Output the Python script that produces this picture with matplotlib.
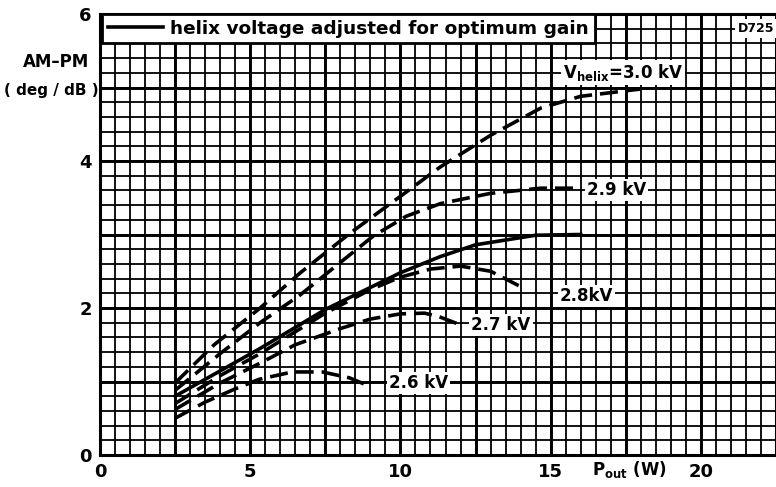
import numpy as np
import matplotlib
matplotlib.use('Agg')
import matplotlib.pyplot as plt

# output power (W) vs AM-PM conversion (deg/dB), one curve per helix voltage
p_30 = [2.5, 3.8, 5.33, 6.67, 8.33, 10, 11.33, 13, 14.67, 16, 18]
am_30 = [0.98, 1.5, 2.0, 2.48, 3.02, 3.52, 3.92, 4.35, 4.72, 4.88, 4.98]
p_29 = [2.5, 4, 5.33, 6.67, 8, 9.1, 10.2, 11.33, 13, 14.67, 16]
am_29 = [0.88, 1.38, 1.8, 2.18, 2.62, 2.98, 3.25, 3.42, 3.56, 3.63, 3.63]
p_28 = [2.5, 4, 5.33, 7.5, 9, 10, 11, 12, 13, 14.1]
am_28 = [0.70, 1.08, 1.38, 1.93, 2.25, 2.42, 2.53, 2.57, 2.5, 2.27]
p_27 = [2.5, 4, 5.33, 6.5, 8, 9, 10, 10.8, 11.3, 12]
am_27 = [0.62, 0.98, 1.25, 1.5, 1.72, 1.85, 1.92, 1.93, 1.88, 1.77]
p_26 = [2.5, 3.5, 4.5, 5.3, 6.4, 7.4, 8.3, 9]
am_26 = [0.5, 0.72, 0.9, 1.03, 1.13, 1.13, 1.05, 0.93]
# helix voltage adjusted for optimum gain
p_opt = [2.5, 5.33, 7.5, 10, 11.33, 12.5, 14.5, 16]
am_opt = [0.8, 1.45, 1.98, 2.48, 2.7, 2.86, 2.99, 3.0]

x_ticks = [0, 5, 10, 15, 20]
y_ticks = [0, 2, 4, 6]

plt.rcParams['font.family'] = ['DejaVu Sans']
plt.rcParams['font.weight'] = 'bold'

fig = plt.figure(figsize=(7.76, 4.87), dpi=100)
ax = fig.add_axes([100/776, 32/487, 676/776, 441/487])
ax.set_xlim(0, 22.5)
ax.set_ylim(0, 6)

# graph paper grid
ax.vlines(np.arange(0, 22.6, 0.5), 0, 6, color='black', lw=1.3, zorder=1)
ax.hlines(np.arange(0, 6.01, 0.2), 0, 22.5, color='black', lw=1.3, zorder=1)
ax.vlines(np.arange(0, 22.6, 2.5), 0, 6, color='black', lw=2.1, zorder=1)
ax.hlines(np.arange(0, 6.01, 1.0), 0, 22.5, color='black', lw=2.1, zorder=1)
for s in ax.spines.values():
    s.set_linewidth(2.2)

dash = dict(color='black', lw=2.6, dashes=(5, 2.2), zorder=3, solid_capstyle='butt')
ax.plot(p_30, am_30, **dash)
ax.plot(p_29, am_29, **dash)
ax.plot(p_28, am_28, **dash)
ax.plot(p_27, am_27, **dash)
ax.plot(p_26, am_26, **dash)
ax.plot(p_opt, am_opt, color='black', lw=2.6, zorder=3,
        label='helix voltage adjusted for optimum gain')

box = dict(facecolor='white', edgecolor='none', pad=1.5)
lab = dict(fontsize=12, ha='center', va='center', bbox=box, zorder=4)
ax.text(17.4, 5.21, r'$\mathbf{V_{helix}}$=3.0 kV', **lab)
ax.text(17.2, 3.6, '2.9 kV', **lab)
ax.text(16.2, 2.16, '2.8kV', **lab)
ax.text(13.35, 1.77, '2.7 kV', **lab)
ax.text(10.6, 0.98, '2.6 kV', **lab)
ax.text(21.85, 5.8, 'D725', fontsize=9, ha='center', va='center',
        bbox=dict(facecolor='white', edgecolor='none', pad=2), zorder=4)

leg = ax.legend(loc='upper left', bbox_to_anchor=(0.003, 1.0), borderaxespad=0,
                fontsize=13.3, handlelength=3.0, handletextpad=0.4,
                fancybox=False, framealpha=1, edgecolor='black',
                borderpad=0.3)
leg.get_frame().set_linewidth(2.0)
leg.set_zorder(5)

ax.set_xticks(x_ticks)
ax.set_xticklabels([str(v) for v in x_ticks])
ax.set_yticks(y_ticks)
ax.set_yticklabels([str(v) for v in y_ticks])
ax.tick_params(length=0, labelsize=13, pad=6)

ax.text(17.6, -0.2, r'$\mathbf{P_{out}}$ (W)', fontsize=12, ha='center',
        va='center', clip_on=False)
fig.text(56/776, 1 - 62/487, 'AM\u2013PM', fontsize=12, ha='center', va='center')
fig.text(51/776, 1 - 90/487, '( deg / dB )', fontsize=11, ha='center', va='center')

fig.savefig('out.png', dpi=100)
